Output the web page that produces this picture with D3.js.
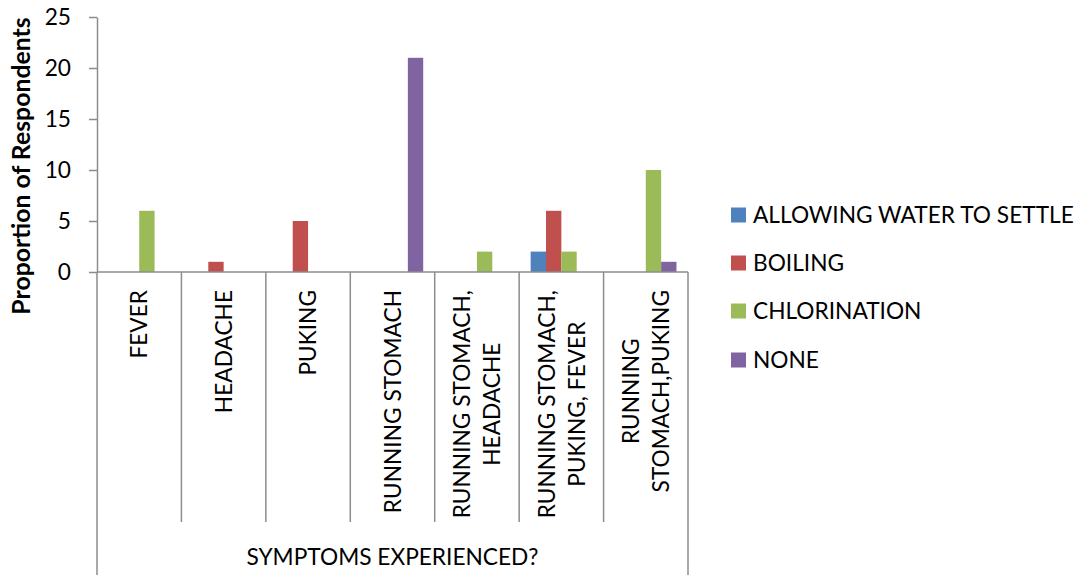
<!DOCTYPE html>
<html>
<head>
<meta charset="utf-8">
<script src="https://cdn.jsdelivr.net/npm/d3@7"></script>
<style>
  html, body { margin: 0; padding: 0; background: #fff; }
  svg { display: block; }
  text { font-family: Lato, "Open Sans", sans-serif; fill: #000; }
</style>
</head>
<body>
<svg id="chart" width="1081" height="575"></svg>
<script>
// Symptoms experienced, by water treatment method
const categories = [
  "FEVER", "HEADACHE", "PUKING", "RUNNING STOMACH",
  "RUNNING STOMACH, HEADACHE", "RUNNING STOMACH, PUKING, FEVER", "RUNNING STOMACH,PUKING"
];
const categoryLines = [
  ["FEVER"],
  ["HEADACHE"],
  ["PUKING"],
  ["RUNNING STOMACH"],
  ["RUNNING STOMACH,", "HEADACHE"],
  ["RUNNING STOMACH,", "PUKING, FEVER"],
  ["RUNNING", "STOMACH,PUKING"]
];
const seriesNames = ["ALLOWING WATER TO SETTLE", "BOILING", "CHLORINATION", "NONE"];
const allowingWaterToSettle = [0, 0, 0, 0, 0, 2, 0];
const boiling = [0, 1, 5, 0, 0, 6, 0];
const chlorination = [6, 0, 0, 0, 2, 2, 10];
const none = [0, 0, 0, 21, 0, 0, 1];
const yTicks = [0, 5, 10, 15, 20, 25];
const xAxisTitle = "SYMPTOMS EXPERIENCED?";
const yAxisTitle = "Proportion of Respondents";

const seriesValues = [allowingWaterToSettle, boiling, chlorination, none];
const colors = ["#4F81BD", "#C0504D", "#9BBB59", "#8064A2"];
const axisColor = "#8c8c8c";
const fontSize = 22.7;

const svg = d3.select("#chart");

const plotLeft = 97, plotRight = 688, plotTop = 17, plotBottom = 272;
const labelBottom = 522, frameBottom = 575;

const x0 = d3.scaleBand().domain(categories).range([plotLeft, plotRight]).paddingInner(0).paddingOuter(0);
const x1 = d3.scaleBand().domain(seriesNames).range([0, x0.bandwidth()]).paddingInner(0).paddingOuter(0.75);
const y = d3.scaleLinear().domain([0, 25]).range([plotBottom, plotTop]);

// Bars
const groups = svg.append("g").selectAll("g")
  .data(categories)
  .join("g")
  .attr("transform", d => `translate(${x0(d)},0)`);

groups.selectAll("rect")
  .data((c, i) => seriesNames.map((s, k) => ({ s, k, v: seriesValues[k][i] })))
  .join("rect")
  .attr("x", d => x1(d.s))
  .attr("width", x1.bandwidth())
  .attr("y", d => y(d.v))
  .attr("height", d => y(0) - y(d.v))
  .attr("fill", d => colors[d.k]);

// Y axis
const yAxis = svg.append("g")
  .attr("transform", `translate(${plotLeft},0)`)
  .call(d3.axisLeft(y).tickValues(yTicks).tickSize(8).tickSizeOuter(0).tickPadding(18));
yAxis.select(".domain").attr("stroke", axisColor).attr("stroke-width", 1.5);
yAxis.selectAll(".tick line").attr("stroke", axisColor).attr("stroke-width", 1.5);
yAxis.selectAll(".tick text")
  .attr("font-family", "Lato, 'Open Sans', sans-serif")
  .attr("font-size", fontSize)
  .attr("fill", "#000");

// X axis baseline and category dividers
svg.append("line")
  .attr("x1", plotLeft).attr("x2", plotRight)
  .attr("y1", plotBottom).attr("y2", plotBottom)
  .attr("stroke", axisColor).attr("stroke-width", 1.5);

const boundaries = categories.map(c => x0(c)).concat([plotRight]);
svg.append("g").selectAll("line")
  .data(boundaries)
  .join("line")
  .attr("x1", d => d).attr("x2", d => d)
  .attr("y1", plotBottom)
  .attr("y2", (d, i) => (i === 0 || i === boundaries.length - 1) ? frameBottom : labelBottom)
  .attr("stroke", axisColor).attr("stroke-width", 1.5);

// Category labels, rotated, lines centred on each other, block ending near the axis
const lineGap = 30;
const labelTop = 290;
const catLabels = svg.append("g");
categories.forEach((c, i) => {
  const lines = categoryLines[i];
  const cx = x0(c) + x0.bandwidth() / 2;
  const texts = lines.map(ln => catLabels.append("text")
    .attr("font-size", fontSize)
    .attr("text-anchor", "middle")
    .attr("dy", "0.36em")
    .text(ln));
  const longest = d3.max(texts, t => t.node().getComputedTextLength());
  const cy = labelTop + longest / 2;
  texts.forEach((t, j) => {
    const lx = cx + (j - (lines.length - 1) / 2) * lineGap;
    t.attr("transform", `translate(${lx},${cy}) rotate(-90)`);
  });
});

// Axis titles
svg.append("text")
  .attr("x", (plotLeft + plotRight) / 2)
  .attr("y", 565)
  .attr("text-anchor", "middle")
  .attr("font-size", fontSize)
  .text(xAxisTitle);

svg.append("text")
  .attr("transform", "translate(30,166) rotate(-90)")
  .attr("text-anchor", "middle")
  .attr("font-size", 24.8)
  .attr("font-weight", "bold")
  .text(yAxisTitle);

// Legend
const legendRows = [215, 263, 311, 360];
const legend = svg.append("g").selectAll("g")
  .data(seriesNames)
  .join("g")
  .attr("transform", (d, i) => `translate(731,${legendRows[i]})`);
legend.append("rect")
  .attr("x", 0).attr("y", -7.5)
  .attr("width", 15).attr("height", 15)
  .attr("fill", (d, i) => colors[i]);
legend.append("text")
  .attr("x", 22)
  .attr("dy", "0.36em")
  .attr("font-size", fontSize)
  .text(d => d);
</script>
</body>
</html>
